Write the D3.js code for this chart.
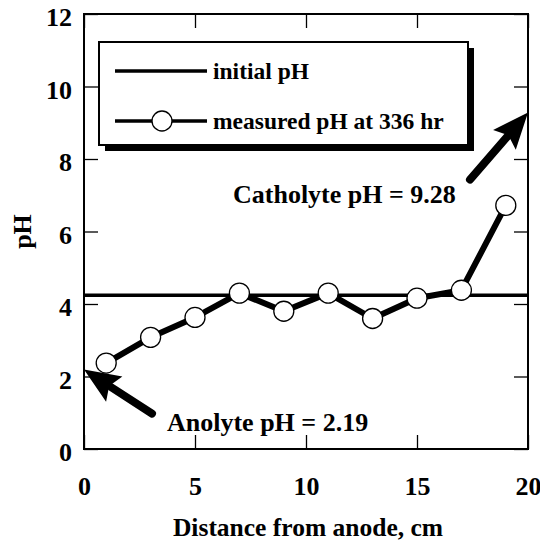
<!DOCTYPE html>
<html>
<head>
<meta charset="utf-8">
<script src="https://cdn.jsdelivr.net/npm/d3@7"></script>
<style>
  html, body { margin: 0; padding: 0; background: #fff; }
  svg { display: block; }
  text { font-family: "Liberation Serif", "Times New Roman", serif; font-weight: bold; fill: #000; }
</style>
</head>
<body>
<script>
// pH profile across the specimen after 336 hr of treatment
const distances = [1, 3, 5, 7, 9, 11, 13, 15, 17, 19];          // cm from anode
const measuredPH = [2.37, 3.08, 3.63, 4.3, 3.8, 4.3, 3.6, 4.16, 4.38, 6.72];
const initialPH = 4.24;
const anolytePH = 2.19;
const catholytePH = 9.28;
const xTicks = [0, 5, 10, 15, 20];
const yTicks = [0, 2, 4, 6, 8, 10, 12];
const legendLabels = ["initial pH", "measured pH at 336 hr"];

const W = 540, H = 544;
const svg = d3.select("body").append("svg").attr("width", W).attr("height", H);

const x = d3.scaleLinear().domain([0, 20]).range([84, 528]);
const y = d3.scaleLinear().domain([0, 12]).range([449, 14]);

// frame
svg.append("rect")
  .attr("x", x(0)).attr("y", y(12))
  .attr("width", x(20) - x(0)).attr("height", y(0) - y(12))
  .attr("fill", "none").attr("stroke", "#000").attr("stroke-width", 2);

// axes with inward ticks, mirrored on all four sides
const tl = 14;
const styleTicks = g => {
  g.select(".domain").remove();
  g.selectAll(".tick line").attr("stroke", "#000").attr("stroke-width", 1.3);
  g.selectAll(".tick text")
    .attr("fill", "#000")
    .style("font-family", "'Liberation Serif', serif")
    .style("font-weight", "bold")
    .style("font-size", "26px");
};
svg.append("g").attr("transform", `translate(0,${y(0)})`)
  .call(d3.axisBottom(x).tickValues(xTicks).tickSizeInner(-tl).tickSizeOuter(0).tickPadding(28))
  .call(styleTicks);
svg.append("g").attr("transform", `translate(0,${y(12)})`)
  .call(d3.axisTop(x).tickValues(xTicks).tickSizeInner(-tl).tickSizeOuter(0).tickFormat(""))
  .call(styleTicks);
svg.append("g").attr("transform", `translate(${x(0)},0)`)
  .call(d3.axisLeft(y).tickValues(yTicks).tickSizeInner(-tl).tickSizeOuter(0).tickPadding(12))
  .call(styleTicks)
  .call(g => g.selectAll(".tick text").attr("dy", "0.45em"));
svg.append("g").attr("transform", `translate(${x(20)},0)`)
  .call(d3.axisRight(y).tickValues(yTicks).tickSizeInner(-tl).tickSizeOuter(0).tickFormat(""))
  .call(styleTicks);

// axis titles
svg.append("text")
  .attr("x", (x(0) + x(20)) / 2 + 2).attr("y", 536)
  .attr("text-anchor", "middle").style("font-size", "25.5px")
  .text("Distance from anode, cm");
svg.append("text")
  .attr("transform", `translate(31,${(y(0) + y(12)) / 2}) rotate(-90)`)
  .attr("text-anchor", "middle").style("font-size", "26px")
  .text("pH");

// initial pH line
svg.append("line")
  .attr("x1", x(0)).attr("x2", x(20))
  .attr("y1", y(initialPH)).attr("y2", y(initialPH))
  .attr("stroke", "#000").attr("stroke-width", 3.5);

// measured pH series
const pts = distances.map((d, i) => [d, measuredPH[i]]);
svg.append("path")
  .datum(pts)
  .attr("d", d3.line().x(d => x(d[0])).y(d => y(d[1])))
  .attr("fill", "none").attr("stroke", "#000").attr("stroke-width", 6)
  .attr("stroke-linejoin", "round");
svg.selectAll("circle.pt").data(pts).enter().append("circle")
  .attr("class", "pt")
  .attr("cx", d => x(d[0])).attr("cy", d => y(d[1])).attr("r", 10)
  .attr("fill", "#fff").attr("stroke", "#000").attr("stroke-width", 1.3);

// legend box with drop shadow
const lg = { x: 99, y: 42, w: 369, h: 103, s: 6 };
svg.append("rect")
  .attr("x", lg.x + lg.s).attr("y", lg.y + lg.s)
  .attr("width", lg.w).attr("height", lg.h).attr("fill", "#000");
svg.append("rect")
  .attr("x", lg.x).attr("y", lg.y).attr("width", lg.w).attr("height", lg.h)
  .attr("fill", "#fff").attr("stroke", "#000").attr("stroke-width", 2);
const rows = [71, 121];
rows.forEach(r => {
  svg.append("line").attr("x1", 115).attr("x2", 207).attr("y1", r).attr("y2", r)
    .attr("stroke", "#000").attr("stroke-width", 3.5);
});
svg.append("circle").attr("cx", 162).attr("cy", rows[1]).attr("r", 10)
  .attr("fill", "#fff").attr("stroke", "#000").attr("stroke-width", 1.3);
legendLabels.forEach((t, i) => {
  svg.append("text").attr("x", 213).attr("y", rows[i] + 8)
    .style("font-size", "23.5px").text(t);
});

// arrows pointing at the electrolyte pH on the chamber boundaries
function arrow(tip, tail, shaft, headLen, headHalf) {
  const dx = tip[0] - tail[0], dy = tip[1] - tail[1];
  const len = Math.hypot(dx, dy);
  const ux = dx / len, uy = dy / len, nx = -uy, ny = ux;
  const bx = tip[0] - ux * headLen, by = tip[1] - uy * headLen;
  svg.append("line")
    .attr("x1", tail[0]).attr("y1", tail[1]).attr("x2", bx + ux * 4).attr("y2", by + uy * 4)
    .attr("stroke", "#000").attr("stroke-width", shaft).attr("stroke-linecap", "round");
  svg.append("path")
    .attr("d", `M${tip[0]},${tip[1]}L${bx + nx * headHalf},${by + ny * headHalf}L${bx + ux * 6},${by + uy * 6}L${bx - nx * headHalf},${by - ny * headHalf}Z`)
    .attr("fill", "#000");
}
arrow([x(0), y(anolytePH)], [x(0) + 68, y(anolytePH) + 44], 8, 36, 15);
arrow([x(20), y(catholytePH)], [x(20) - 58, y(catholytePH) + 67], 8, 36, 15);

svg.append("text").attr("x", 167).attr("y", 431).style("font-size", "26px")
  .text(`Anolyte pH = ${anolytePH}`);
svg.append("text").attr("x", 233).attr("y", 203).style("font-size", "26px")
  .text(`Catholyte pH = ${catholytePH}`);
</script>
</body>
</html>
